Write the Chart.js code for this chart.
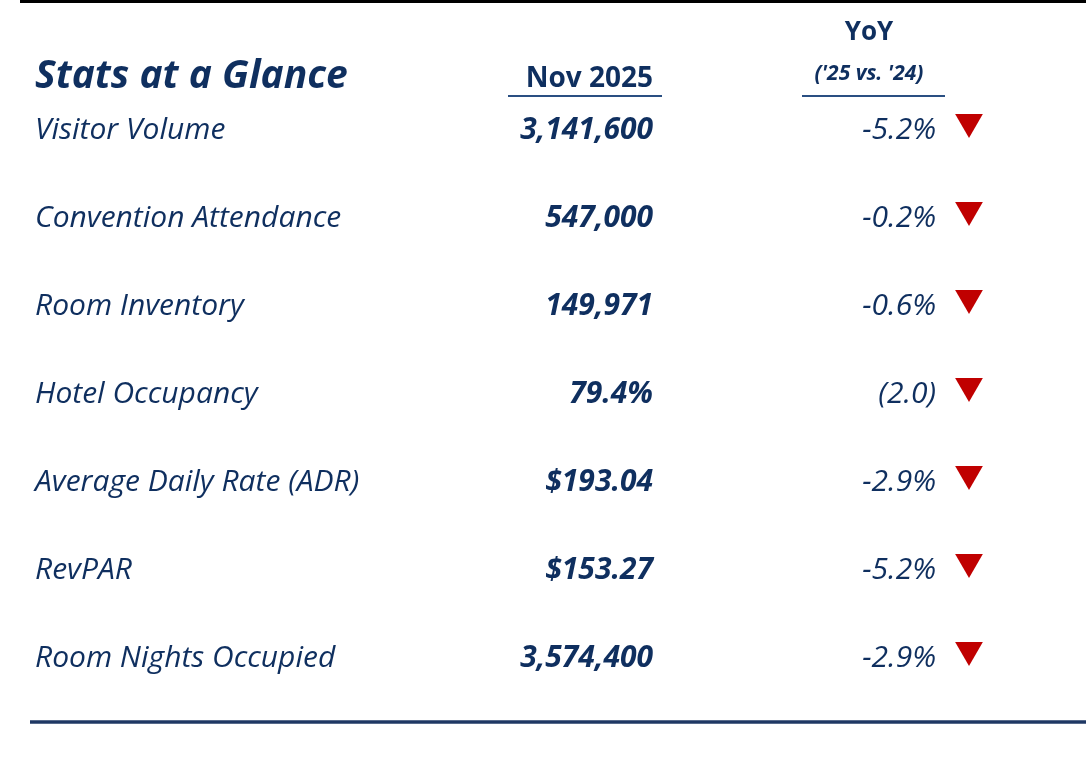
<!DOCTYPE html>
<html>
<head>
<meta charset="utf-8">
<script src="https://cdn.jsdelivr.net/npm/chart.js@4.4.1/dist/chart.umd.min.js"></script>
<style>
    html, body { margin: 0; padding: 0; background: #fff; overflow: hidden; }
    canvas { display: block; }
</style>
</head>
<body>
<canvas id="statsChart" width="1086" height="775"></canvas>
<script>
const title = 'Stats at a Glance';
const periodLabel = 'Nov 2025';
const changeLabel = 'YoY';
const changeSubLabel = "('25 vs. '24)";

const metrics = [
    'Visitor Volume',
    'Convention Attendance',
    'Room Inventory',
    'Hotel Occupancy',
    'Average Daily Rate (ADR)',
    'RevPAR',
    'Room Nights Occupied'
];
const currentValues = [3141600, 547000, 149971, 79.4, 193.04, 153.27, 3574400];
const valueFormats = ['count', 'count', 'count', 'percent', 'currency', 'currency', 'count'];
const yoyChanges = [-5.2, -0.2, -0.6, -2.0, -2.9, -5.2, -2.9];
const yoyFormats = ['percent', 'percent', 'percent', 'points', 'percent', 'percent', 'percent'];

const navy = '#0f2f5f';
const ruleBlue = '#2a4f82';
const downRed = '#c00000';
const upGreen = '#00953b';
const family = '"Open Sans", "Noto Sans", sans-serif';

// column positions on the (hidden) x axis
const labelX = 35;
const valueX = 653;
const yoyX = 936;
const arrowX = 969;

function formatValue(v, kind) {
    if (kind === 'count') return v.toLocaleString('en-US');
    if (kind === 'percent') return v.toFixed(1) + '%';
    if (kind === 'currency') return '$' + v.toFixed(2);
    return String(v);
}

function formatChange(v, kind) {
    if (kind === 'points') return v < 0 ? '(' + Math.abs(v).toFixed(1) + ')' : v.toFixed(1);
    return v.toFixed(1) + '%';
}

function text(ctx, str, x, y, font, align) {
    ctx.font = font;
    ctx.textAlign = align;
    ctx.textBaseline = 'alphabetic';
    ctx.fillText(str, x, y);
}

function rule(ctx, x1, x2, y, width, color) {
    ctx.beginPath();
    ctx.strokeStyle = color;
    ctx.lineWidth = width;
    ctx.moveTo(x1, y);
    ctx.lineTo(x2, y);
    ctx.stroke();
}

const tablePlugin = {
    id: 'statsTable',
    afterDatasetsDraw(chart) {
        const ctx = chart.ctx;
        const xs = chart.scales.x;
        const ys = chart.scales.y;
        const px = v => xs.getPixelForValue(v);
        const row = i => ys.getPixelForValue(i) + 17; // text baseline under arrow centre

        ctx.save();
        rule(ctx, 20, chart.width, 1.5, 3, '#000');

        ctx.fillStyle = navy;
        text(ctx, title, px(labelX), 88, 'italic 700 39px ' + family, 'left');
        text(ctx, periodLabel, px(valueX), 87, '700 28px ' + family, 'right');
        text(ctx, changeLabel, px(869), 40, '700 26px ' + family, 'center');
        text(ctx, changeSubLabel, px(869), 80, 'italic 700 21px ' + family, 'center');
        rule(ctx, px(508), px(662), 96, 2.2, ruleBlue);
        rule(ctx, px(802), px(945), 96, 2.2, ruleBlue);

        metrics.forEach((m, i) => {
            const y = row(i);
            ctx.fillStyle = navy;
            text(ctx, m, px(labelX), y, 'italic 400 30px ' + family, 'left');
            text(ctx, formatValue(currentValues[i], valueFormats[i]), px(valueX), y, 'italic 700 30px ' + family, 'right');
            text(ctx, formatChange(yoyChanges[i], yoyFormats[i]), px(yoyX), y, 'italic 400 30px ' + family, 'right');
        });

        rule(ctx, 30, chart.width, 722, 3.5, '#1f3864');
        ctx.restore();
    }
};

new Chart(document.getElementById('statsChart'), {
    type: 'scatter',
    data: {
        datasets: [{
            label: 'YoY direction',
            data: yoyChanges.map((v, i) => ({x: arrowX, y: i})),
            pointStyle: 'triangle',
            rotation: yoyChanges.map(v => v < 0 ? 180 : 0),
            pointRadius: 16,
            pointHoverRadius: 16,
            borderWidth: 0,
            backgroundColor: yoyChanges.map(v => v < 0 ? downRed : upGreen),
            borderColor: yoyChanges.map(v => v < 0 ? downRed : upGreen)
        }]
    },
    options: {
        responsive: false,
        animation: false,
        layout: {padding: 0, autoPadding: false},
        scales: {
            x: {type: 'linear', min: 0, max: 1086, display: false},
            y: {type: 'linear', reverse: true, min: -122 / 88, max: (775 - 122) / 88, display: false}
        },
        plugins: {
            legend: {display: false},
            tooltip: {enabled: false}
        }
    },
    plugins: [tablePlugin]
});
</script>
</body>
</html>
